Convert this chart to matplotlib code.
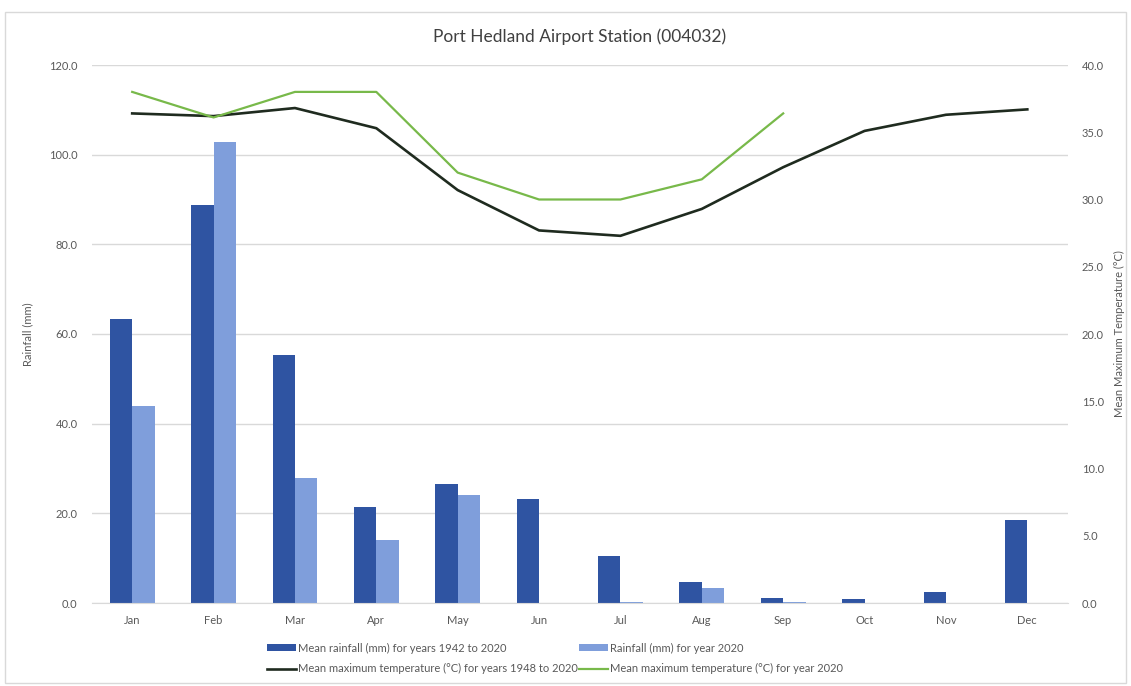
import matplotlib
matplotlib.use("Agg")
import matplotlib.pyplot as plt
import numpy as np
from matplotlib.patches import Rectangle

months = ["Jan", "Feb", "Mar", "Apr", "May", "Jun", "Jul", "Aug", "Sep", "Oct", "Nov", "Dec"]
rain_mean = [63.3, 88.8, 55.3, 21.4, 26.5, 23.2, 10.5, 4.7, 1.1, 0.9, 2.5, 18.5]
rain_2020 = [43.9, 102.8, 27.9, 14.0, 24.1, 0.0, 0.3, 3.3, 0.2, 0.0, 0.0, 0.0]
temp_mean = [36.4, 36.2, 36.8, 35.3, 30.7, 27.7, 27.3, 29.3, 32.4, 35.1, 36.3, 36.7]
temp_2020 = [38.0, 36.1, 38.0, 38.0, 32.0, 30.0, 30.0, 31.5, 36.4]

label_rain_mean = "Mean rainfall (mm) for years 1942 to 2020"
label_rain_2020 = "Rainfall (mm) for year 2020"
label_temp_mean = "Mean maximum temperature (\u00b0C) for years 1948 to 2020"
label_temp_2020 = "Mean maximum temperature (\u00b0C) for year 2020"

plt.rcParams['font.family'] = ['Lato', 'DejaVu Sans']
txt = '#595959'
grid = '#D9D9D9'

fig = plt.figure(figsize=(11.31, 6.86), dpi=100)
fig.patches.append(Rectangle((5/1131, 1 - 683/686), 1121/1131, 671/686, transform=fig.transFigure,
                             fill=False, edgecolor='#D9D9D9', linewidth=1))

ax = fig.add_axes([91.5/1131, 1 - 603/686, (1068 - 91.5)/1131, (603 - 65)/686])
x = np.arange(len(months))
w = 0.275
b1 = ax.bar(x - w/2, rain_mean, w, color='#2F54A2', label=label_rain_mean, zorder=2)
b2 = ax.bar(x + w/2, rain_2020, w, color='#7F9EDB', label=label_rain_2020, zorder=2)
ax.set_xlim(-0.5, 11.5)
ax.set_ylim(0, 120)
ax.set_yticks(np.arange(0, 121, 20))
ax.set_yticklabels([f"{v:.1f}" for v in np.arange(0, 121, 20)])
ax.set_xticks(x)
ax.set_xticklabels(months)
ax.yaxis.grid(True, color=grid, linewidth=1)
ax.set_axisbelow(True)
for s in ['top', 'right', 'left']:
    ax.spines[s].set_visible(False)
ax.spines['bottom'].set_color(grid)
ax.tick_params(axis='both', length=0, labelsize=8, colors=txt)
ax.tick_params(axis='y', pad=10)
ax.tick_params(axis='x', pad=9)
ax.set_ylabel("Rainfall (mm)", fontsize=8, color=txt, labelpad=11)

ax2 = ax.twinx()
l1, = ax2.plot(x, temp_mean, color='#1F2B1F', linewidth=1.9, label=label_temp_mean, zorder=3)
l2, = ax2.plot(x[:len(temp_2020)], temp_2020, color='#78B94A', linewidth=1.6, label=label_temp_2020, zorder=3)
ax2.set_ylim(0, 40)
ax2.set_yticks(np.arange(0, 41, 5))
ax2.set_yticklabels([f"{v:.1f}" for v in np.arange(0, 41, 5)])
for s in ax2.spines.values():
    s.set_visible(False)
ax2.tick_params(axis='y', length=0, labelsize=8, colors=txt, pad=10)
ax2.set_ylabel("Mean Maximum Temperature (\u00b0C)", fontsize=8, color=txt, labelpad=7)

fig.text(580/1131, 1 - 37/686, "Port Hedland Airport Station (004032)", ha='center', va='center',
         fontsize=12.5, color='#404040')

leg = fig.legend([b1, l1, b2, l2], [label_rain_mean, label_temp_mean, label_rain_2020, label_temp_2020],
                 ncol=2, loc='center', bbox_to_anchor=(555/1131, 1 - 658.5/686), frameon=False,
                 fontsize=8, handlelength=2.6, handletextpad=0.2, columnspacing=0.1,
                 labelspacing=0.85, handleheight=0.6)
for t in leg.get_texts():
    t.set_color(txt)

fig.savefig("out.png", dpi=100)
